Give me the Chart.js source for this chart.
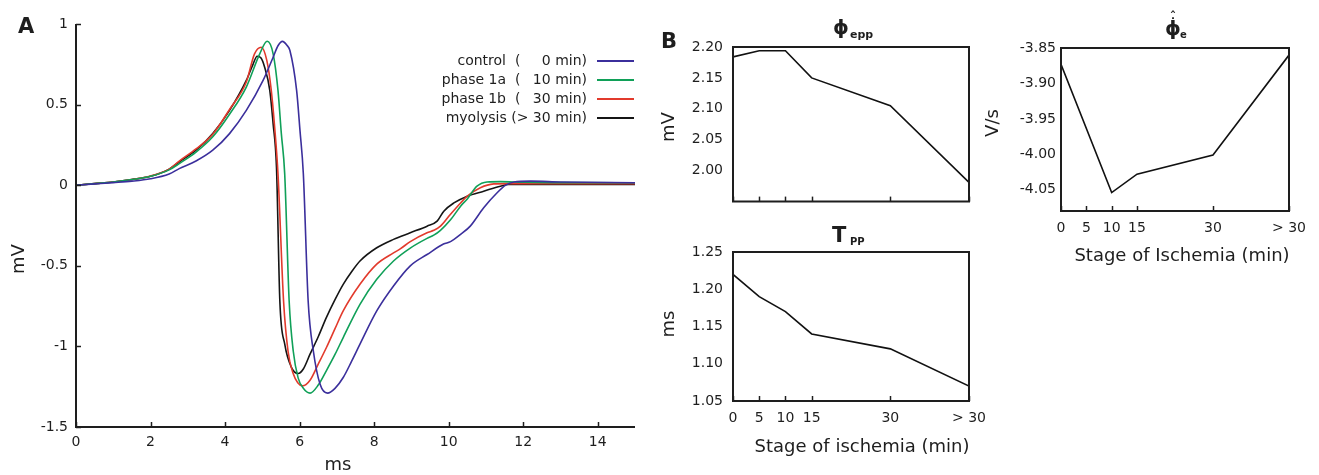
<!DOCTYPE html>
<html>
<head>
<meta charset="utf-8">
<script src="https://cdn.jsdelivr.net/npm/chart.js@4.4.1/dist/chart.umd.min.js"></script>
<style>
  body { margin: 0; background: #fff; }
  #wrap { position: relative; width: 1319px; height: 475px; overflow: hidden; }
  canvas { position: absolute; }
</style>
</head>
<body>
<div id="wrap">
  <canvas id="chart_a" width="650" height="475" style="left:0;top:0"></canvas>
  <canvas id="chart_epp" width="330" height="220" style="left:660px;top:0"></canvas>
  <canvas id="chart_tpp" width="339" height="255" style="left:660px;top:220px"></canvas>
  <canvas id="chart_dphi" width="339" height="280" style="left:980px;top:0"></canvas>
</div>
<script>
// --- A: extracellular potential (ms, mV) ---
const ctrlT = [0, 0.5, 1, 1.5, 2, 2.5, 2.77, 3.22, 3.67, 4.12, 4.57, 5.02, 5.29, 5.42, 5.54, 5.66, 5.74, 5.92, 6.01, 6.1, 6.23, 6.37, 6.55, 6.75, 6.95, 7.17, 7.4, 7.62, 8.07, 8.52, 8.97, 9.42, 9.86, 10.05, 10.32, 10.58, 10.94, 11.3, 11.53, 11.75, 12.2, 13, 15];
const ctrlV = [0, 0.008, 0.016, 0.025, 0.04, 0.07, 0.103, 0.15, 0.217, 0.32, 0.464, 0.65, 0.794, 0.865, 0.892, 0.868, 0.836, 0.588, 0.34, 0.072, -0.72, -1.03, -1.235, -1.29, -1.26, -1.193, -1.09, -0.986, -0.78, -0.625, -0.5, -0.43, -0.365, -0.35, -0.305, -0.254, -0.14, -0.047, 0.0, 0.02, 0.025, 0.02, 0.015];
const ph1aT = [0, 0.5, 1, 1.5, 2, 2.5, 2.77, 3.22, 3.67, 4.12, 4.57, 4.93, 5.13, 5.29, 5.42, 5.51, 5.6, 5.72, 5.83, 5.96, 6.1, 6.28, 6.5, 6.72, 6.95, 7.17, 7.62, 8.07, 8.52, 8.97, 9.42, 9.6, 9.78, 10.05, 10.32, 10.5, 10.76, 11.03, 11.39, 12, 13, 15];
const ph1aV = [0, 0.01, 0.02, 0.035, 0.055, 0.095, 0.134, 0.205, 0.3, 0.44, 0.609, 0.815, 0.893, 0.815, 0.588, 0.32, 0.072, -0.72, -1.03, -1.195, -1.26, -1.29, -1.24, -1.15, -1.05, -0.945, -0.739, -0.584, -0.47, -0.39, -0.33, -0.31, -0.28, -0.215, -0.13, -0.085, -0.006, 0.02, 0.022, 0.018, 0.016, 0.015];
const ph1bT = [0, 0.5, 1, 1.5, 2, 2.5, 2.77, 3.22, 3.67, 4.12, 4.57, 4.79, 4.97, 5.12, 5.24, 5.33, 5.42, 5.57, 5.69, 5.83, 5.95, 6.08, 6.28, 6.5, 6.72, 6.95, 7.17, 7.62, 8.07, 8.52, 8.7, 8.97, 9.42, 9.6, 9.78, 10.05, 10.32, 10.5, 10.85, 11.21, 11.6, 13, 15];
const ph1bV = [0, 0.01, 0.02, 0.035, 0.057, 0.1, 0.15, 0.225, 0.316, 0.47, 0.64, 0.815, 0.856, 0.774, 0.588, 0.361, 0.072, -0.72, -1.03, -1.17, -1.225, -1.245, -1.21, -1.11, -1.007, -0.89, -0.78, -0.615, -0.49, -0.42, -0.395, -0.35, -0.295, -0.28, -0.254, -0.18, -0.11, -0.068, -0.016, 0.008, 0.01, 0.01, 0.01];
const myoT = [0, 0.5, 1, 1.5, 2, 2.5, 2.77, 3.22, 3.67, 4.12, 4.57, 4.75, 4.86, 4.96, 5.06, 5.2, 5.29, 5.38, 5.47, 5.6, 5.78, 5.96, 6.1, 6.28, 6.5, 6.72, 6.95, 7.17, 7.4, 7.62, 8.07, 8.52, 8.97, 9.42, 9.69, 9.87, 10.14, 10.5, 10.94, 11.39, 11.6, 13, 15];
const myoV = [0, 0.01, 0.02, 0.035, 0.055, 0.1, 0.144, 0.217, 0.32, 0.464, 0.65, 0.75, 0.8, 0.79, 0.733, 0.588, 0.38, 0.11, -0.72, -0.985, -1.13, -1.168, -1.14, -1.048, -0.94, -0.82, -0.71, -0.615, -0.535, -0.47, -0.388, -0.336, -0.295, -0.254, -0.223, -0.161, -0.11, -0.068, -0.037, -0.006, 0.004, 0.005, 0.005];

const seriesNames = ['control', 'phase 1a', 'phase 1b', 'myolysis'];
const seriesStages = ['0 min', '10 min', '30 min', '> 30 min'];
const msTicks = [0, 2, 4, 6, 8, 10, 12, 14];
const mvTicks = [-1.5, -1, -0.5, 0, 0.5, 1];

// --- B: features vs stage of ischemia ---
const stageTicks = [0, 5, 10, 15, 30, 45];
const stageLabels = ['0', '5', '10', '15', '30', '> 30'];
const eppStage = [0, 5, 10, 15, 30, 45];
const eppVals = [2.184, 2.194, 2.194, 2.150, 2.105, 1.981];
const eppTicks = [2.00, 2.05, 2.10, 2.15, 2.20];
const tppStage = [0, 5, 10, 15, 30, 45];
const tppVals = [1.22, 1.19, 1.17, 1.14, 1.12, 1.07];
const tppTicks = [1.05, 1.10, 1.15, 1.20, 1.25];
const dphiStage = [0, 10, 15, 30, 45];
const dphiVals = [-3.873, -4.054, -4.028, -4.001, -3.860];
const dphiTicks = [-4.05, -4.00, -3.95, -3.90, -3.85];

const FONT = "'DejaVu Sans', sans-serif";
const INK = '#1e1e1e';
const COLORS = ['#3b2f9c', '#10a058', '#e23a2c', '#151515'];

const pts = (xs, ys) => xs.map((x, i) => ({x: x, y: ys[i]}));

// axis frame, inward ticks and free text labels
const frame = {
  id: 'frame',
  afterDatasetsDraw(chart, args, opts) {
    const {ctx, chartArea: a, scales} = chart;
    ctx.save();
    ctx.strokeStyle = INK;
    ctx.lineWidth = 2;
    ctx.beginPath();
    if (opts.box) {
      ctx.rect(a.left, a.top, a.right - a.left, a.bottom - a.top);
    } else {
      ctx.moveTo(a.left, a.top);
      ctx.lineTo(a.left, a.bottom);
      ctx.lineTo(a.right, a.bottom);
    }
    ctx.stroke();
    ctx.lineWidth = 1.5;
    if (opts.xTicks) {
      scales.x.ticks.forEach(t => {
        const px = Math.round(scales.x.getPixelForValue(t.value)) + 0.5;
        ctx.beginPath(); ctx.moveTo(px, a.bottom); ctx.lineTo(px, a.bottom - 5); ctx.stroke();
      });
    }
    if (opts.yTicks) {
      scales.y.ticks.forEach(t => {
        const py = Math.round(scales.y.getPixelForValue(t.value)) + 0.5;
        ctx.beginPath(); ctx.moveTo(a.left, py); ctx.lineTo(a.left + 5, py); ctx.stroke();
      });
    }
    (opts.texts || []).forEach(t => {
      ctx.save();
      ctx.font = t.font;
      ctx.fillStyle = INK;
      ctx.textAlign = t.align || 'center';
      ctx.textBaseline = t.base || 'alphabetic';
      ctx.translate(t.x, t.y);
      if (t.rot) ctx.rotate(t.rot);
      ctx.fillText(t.text, 0, 0);
      ctx.restore();
    });
    ctx.restore();
  }
};

// legend: label text on the left, line sample on the right
const seriesKey = {
  id: 'seriesKey',
  afterDatasetsDraw(chart) {
    const ctx = chart.ctx;
    const rows = [61, 80, 99, 118];
    ctx.save();
    ctx.font = '14px ' + FONT;
    ctx.fillStyle = INK;
    ctx.textBaseline = 'middle';
    chart.data.datasets.forEach((ds, i) => {
      const y = rows[i];
      const stage = seriesStages[i];
      ctx.textAlign = 'right';
      if (stage.startsWith('>')) {
        ctx.fillText(ds.label + ' (' + stage + ')', 587, y);
      } else {
        ctx.fillText(ds.label, 506, y);
        ctx.fillText(stage + ')', 587, y);
        ctx.textAlign = 'left';
        ctx.fillText('(', 515, y);
      }
      ctx.strokeStyle = ds.borderColor;
      ctx.lineWidth = 2;
      ctx.beginPath(); ctx.moveTo(597, y); ctx.lineTo(634, y); ctx.stroke();
    });
    ctx.restore();
  }
};

const tickFont = {family: FONT, size: 14};

function fixedTicks(arr) {
  return s => { s.ticks = arr.map(v => ({value: v})); };
}

// A
new Chart(document.getElementById('chart_a'), {
  type: 'line',
  data: {
    datasets: [
      {label: seriesNames[0], data: pts(ctrlT, ctrlV), borderColor: COLORS[0]},
      {label: seriesNames[1], data: pts(ph1aT, ph1aV), borderColor: COLORS[1]},
      {label: seriesNames[2], data: pts(ph1bT, ph1bV), borderColor: COLORS[2]},
      {label: seriesNames[3], data: pts(myoT, myoV), borderColor: COLORS[3]}
    ]
  },
  plugins: [frame, seriesKey],
  options: {
    responsive: false,
    animation: false,
    devicePixelRatio: 1,
    layout: {padding: {top: 24, right: 15, left: 0, bottom: 0}},
    elements: {
      line: {borderWidth: 1.6, cubicInterpolationMode: 'monotone'},
      point: {radius: 0}
    },
    scales: {
      x: {
        type: 'linear', min: 0, max: 15, bounds: 'data',
        afterBuildTicks: fixedTicks(msTicks),
        afterFit: s => { s.height = 48; },
        ticks: {padding: 7, color: INK, font: tickFont, maxRotation: 0, autoSkip: false},
        grid: {display: false, drawTicks: false},
        border: {display: false}
      },
      y: {
        min: -1.5, max: 1, bounds: 'data',
        afterBuildTicks: fixedTicks(mvTicks),
        afterFit: s => { s.width = 76; },
        ticks: {padding: 8, color: INK, font: tickFont, callback: v => String(v)},
        grid: {display: false, drawTicks: false},
        border: {display: false}
      }
    },
    plugins: {
      legend: {display: false},
      tooltip: {enabled: false},
      frame: {
        box: false, xTicks: true, yTicks: true,
        texts: [
          {text: 'A', x: 18, y: 33, font: 'bold 21px ' + FONT, align: 'left'},
          {text: 'mV', x: 19, y: 259, font: '18px ' + FONT, base: 'middle', rot: -Math.PI / 2},
          {text: 'ms', x: 338, y: 470, font: '18px ' + FONT}
        ]
      }
    }
  }
});

// B panels
function stageAxis(showLabels, height) {
  return {
    type: 'linear', min: 0, max: 45, bounds: 'data',
    afterBuildTicks: fixedTicks(stageTicks),
    afterFit: s => { s.height = height; },
    ticks: {
      display: showLabels, padding: 9, color: INK, font: tickFont, maxRotation: 0, autoSkip: false,
      callback: v => stageLabels[stageTicks.indexOf(v)]
    },
    grid: {display: false, drawTicks: false},
    border: {display: false}
  };
}

function valueAxis(min, max, ticksArr, width, pad) {
  return {
    min: min, max: max, bounds: 'data',
    afterBuildTicks: fixedTicks(ticksArr),
    afterFit: s => { s.width = width; },
    ticks: {padding: pad, color: INK, font: tickFont, callback: v => v.toFixed(2)},
    grid: {display: false, drawTicks: false},
    border: {display: false}
  };
}

function stageChart(id, xs, ys, xAxis, yAxis, padding, texts) {
  new Chart(document.getElementById(id), {
    type: 'line',
    data: {datasets: [{data: pts(xs, ys), borderColor: '#111', borderWidth: 1.6, pointRadius: 0, tension: 0}]},
    plugins: [frame],
    options: {
      responsive: false,
      animation: false,
      devicePixelRatio: 1,
      layout: {padding: padding},
      scales: {x: xAxis, y: yAxis},
      plugins: {
        legend: {display: false},
        tooltip: {enabled: false},
        frame: {box: true, xTicks: true, yTicks: false, texts: texts}
      }
    }
  });
}

stageChart('chart_epp', eppStage, eppVals,
  stageAxis(false, 0), valueAxis(1.95, 2.20, eppTicks, 73, 10),
  {top: 47, right: 21, left: 0, bottom: 9},
  [
    {text: 'B', x: 1, y: 48, font: 'bold 21px ' + FONT, align: 'left'},
    {text: '\u03D5', x: 173, y: 34, font: 'bold 20px ' + FONT, align: 'left'},
    {text: 'epp', x: 190, y: 38, font: 'bold 11px ' + FONT, align: 'left'},
    {text: 'mV', x: 9, y: 127, font: '18px ' + FONT, base: 'middle', rot: -Math.PI / 2}
  ]);

stageChart('chart_tpp', tppStage, tppVals,
  stageAxis(true, 74), valueAxis(1.05, 1.25, tppTicks, 73, 10),
  {top: 32, right: 30, left: 0, bottom: 0},
  [
    {text: 'T', x: 172, y: 22, font: 'bold 21px ' + FONT, align: 'left'},
    {text: 'PP', x: 190, y: 25, font: 'bold 10px ' + FONT, align: 'left'},
    {text: 'ms', x: 9, y: 104, font: '18px ' + FONT, base: 'middle', rot: -Math.PI / 2},
    {text: 'Stage of ischemia (min)', x: 202, y: 232, font: '18px ' + FONT}
  ]);

stageChart('chart_dphi', dphiStage, dphiVals,
  stageAxis(true, 69), valueAxis(-4.08, -3.85, dphiTicks, 81, 5),
  {top: 48, right: 30, left: 0, bottom: 0},
  [
    {text: '\u03D5', x: 185, y: 34.5, font: 'bold 20px ' + FONT, align: 'left'},
    {text: '\u02D9', x: 193, y: 28, font: 'bold 14px ' + FONT},
    {text: '\u02C6', x: 193, y: 20.5, font: 'bold 12px ' + FONT},
    {text: 'e', x: 200, y: 37.5, font: 'bold 10px ' + FONT, align: 'left'},
    {text: 'V/s', x: 13, y: 123, font: '18px ' + FONT, base: 'middle', rot: -Math.PI / 2},
    {text: 'Stage of Ischemia (min)', x: 202, y: 261, font: '18px ' + FONT}
  ]);
</script>
</body>
</html>
